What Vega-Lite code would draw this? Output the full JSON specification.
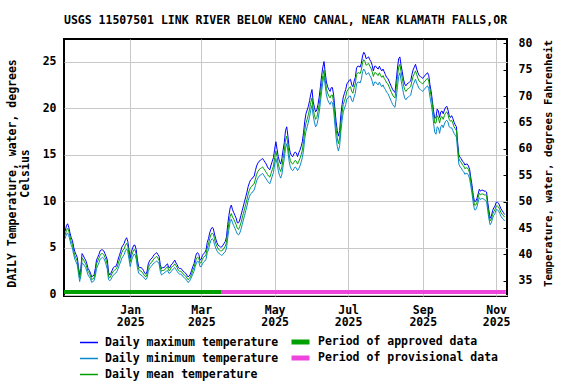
{
"$schema": "https://vega.github.io/schema/vega-lite/v6.json",
"width": 443, "height": 257,
"autosize": {"type": "none"},
"padding": {"left": 64, "top": 39, "right": 69, "bottom": 88},
"title": {"text": "USGS 11507501 LINK RIVER BELOW KENO CANAL, NEAR KLAMATH FALLS,OR", "fontSize": 11.5, "fontWeight": "bold", "font": "DejaVu Sans Mono", "anchor": "middle", "baseline": "alphabetic", "offset": 2, "color": "black"},
"datasets": {
"periods": [
{"start": "2024-11-07", "end": "2025-03-18", "period": "Period of approved data"},
{"start": "2025-03-18", "end": "2025-11-09", "period": "Period of provisional data"}
],
"temps": [
{"date":"2024-11-08","max":6.8,"mean":6.4,"min":6.0},
{"date":"2024-11-09","max":7.4,"mean":6.9,"min":6.5},
{"date":"2024-11-10","max":7.6,"mean":7.1,"min":6.6},
{"date":"2024-11-11","max":7.2,"mean":6.8,"min":6.3},
{"date":"2024-11-12","max":6.6,"mean":6.2,"min":5.8},
{"date":"2024-11-13","max":6.1,"mean":5.7,"min":5.3},
{"date":"2024-11-14","max":5.8,"mean":5.4,"min":5.0},
{"date":"2024-11-15","max":5.1,"mean":4.7,"min":4.3},
{"date":"2024-11-16","max":4.6,"mean":4.2,"min":3.8},
{"date":"2024-11-17","max":4.3,"mean":3.9,"min":3.5},
{"date":"2024-11-18","max":4.0,"mean":3.6,"min":3.2},
{"date":"2024-11-19","max":3.0,"mean":2.7,"min":2.3},
{"date":"2024-11-20","max":2.1,"mean":1.8,"min":1.4},
{"date":"2024-11-21","max":2.8,"mean":2.4,"min":2.0},
{"date":"2024-11-22","max":4.4,"mean":3.9,"min":3.4},
{"date":"2024-11-23","max":4.2,"mean":3.8,"min":3.3},
{"date":"2024-11-24","max":3.9,"mean":3.5,"min":3.1},
{"date":"2024-11-25","max":3.7,"mean":3.3,"min":2.9},
{"date":"2024-11-26","max":3.3,"mean":2.9,"min":2.5},
{"date":"2024-11-27","max":2.8,"mean":2.5,"min":2.1},
{"date":"2024-11-28","max":2.6,"mean":2.3,"min":1.9},
{"date":"2024-11-29","max":2.3,"mean":2.0,"min":1.7},
{"date":"2024-11-30","max":1.9,"mean":1.6,"min":1.3},
{"date":"2024-12-01","max":2.0,"mean":1.7,"min":1.4},
{"date":"2024-12-02","max":2.1,"mean":1.8,"min":1.5},
{"date":"2024-12-03","max":2.8,"mean":2.4,"min":2.0},
{"date":"2024-12-04","max":3.7,"mean":3.3,"min":2.8},
{"date":"2024-12-05","max":4.0,"mean":3.6,"min":3.1},
{"date":"2024-12-06","max":4.3,"mean":3.9,"min":3.4},
{"date":"2024-12-07","max":4.7,"mean":4.2,"min":3.8},
{"date":"2024-12-08","max":4.8,"mean":4.4,"min":3.9},
{"date":"2024-12-09","max":4.8,"mean":4.4,"min":4.0},
{"date":"2024-12-10","max":4.7,"mean":4.3,"min":3.9},
{"date":"2024-12-11","max":4.4,"mean":4.0,"min":3.6},
{"date":"2024-12-12","max":4.1,"mean":3.7,"min":3.2},
{"date":"2024-12-13","max":3.7,"mean":3.2,"min":2.7},
{"date":"2024-12-14","max":2.4,"mean":2.0,"min":1.6},
{"date":"2024-12-15","max":2.1,"mean":1.8,"min":1.5},
{"date":"2024-12-16","max":2.3,"mean":2.0,"min":1.6},
{"date":"2024-12-17","max":2.6,"mean":2.3,"min":1.9},
{"date":"2024-12-18","max":2.9,"mean":2.5,"min":2.1},
{"date":"2024-12-19","max":3.0,"mean":2.6,"min":2.2},
{"date":"2024-12-20","max":3.0,"mean":2.7,"min":2.3},
{"date":"2024-12-21","max":3.3,"mean":2.9,"min":2.5},
{"date":"2024-12-22","max":3.8,"mean":3.3,"min":2.8},
{"date":"2024-12-23","max":4.2,"mean":3.7,"min":3.2},
{"date":"2024-12-24","max":4.6,"mean":4.1,"min":3.5},
{"date":"2024-12-25","max":5.1,"mean":4.5,"min":3.9},
{"date":"2024-12-26","max":5.3,"mean":4.8,"min":4.1},
{"date":"2024-12-27","max":5.5,"mean":4.9,"min":4.3},
{"date":"2024-12-28","max":5.9,"mean":5.3,"min":4.7},
{"date":"2024-12-29","max":6.1,"mean":5.5,"min":4.9},
{"date":"2024-12-30","max":5.7,"mean":5.2,"min":4.6},
{"date":"2024-12-31","max":4.8,"mean":4.3,"min":3.8},
{"date":"2025-01-01","max":3.9,"mean":3.5,"min":3.0},
{"date":"2025-01-02","max":4.6,"mean":4.1,"min":3.6},
{"date":"2025-01-03","max":5.0,"mean":4.5,"min":4.0},
{"date":"2025-01-04","max":5.3,"mean":4.8,"min":4.3},
{"date":"2025-01-05","max":5.3,"mean":4.8,"min":4.3},
{"date":"2025-01-06","max":4.8,"mean":4.3,"min":3.8},
{"date":"2025-01-07","max":3.7,"mean":3.3,"min":2.9},
{"date":"2025-01-08","max":3.0,"mean":2.7,"min":2.3},
{"date":"2025-01-09","max":2.9,"mean":2.6,"min":2.2},
{"date":"2025-01-10","max":2.9,"mean":2.5,"min":2.1},
{"date":"2025-01-11","max":2.8,"mean":2.4,"min":2.0},
{"date":"2025-01-12","max":2.6,"mean":2.2,"min":1.9},
{"date":"2025-01-13","max":2.3,"mean":2.0,"min":1.7},
{"date":"2025-01-14","max":2.2,"mean":1.9,"min":1.6},
{"date":"2025-01-15","max":2.5,"mean":2.2,"min":1.8},
{"date":"2025-01-16","max":3.3,"mean":2.9,"min":2.5},
{"date":"2025-01-17","max":3.6,"mean":3.2,"min":2.8},
{"date":"2025-01-18","max":3.8,"mean":3.4,"min":3.0},
{"date":"2025-01-19","max":3.9,"mean":3.5,"min":3.1},
{"date":"2025-01-20","max":4.1,"mean":3.7,"min":3.3},
{"date":"2025-01-21","max":4.3,"mean":3.9,"min":3.4},
{"date":"2025-01-22","max":4.4,"mean":4.0,"min":3.5},
{"date":"2025-01-23","max":4.5,"mean":4.1,"min":3.6},
{"date":"2025-01-24","max":4.3,"mean":3.9,"min":3.5},
{"date":"2025-01-25","max":4.1,"mean":3.7,"min":3.3},
{"date":"2025-01-26","max":3.2,"mean":2.9,"min":2.5},
{"date":"2025-01-27","max":2.8,"mean":2.5,"min":2.1},
{"date":"2025-01-28","max":2.9,"mean":2.6,"min":2.2},
{"date":"2025-01-29","max":2.9,"mean":2.6,"min":2.3},
{"date":"2025-01-30","max":3.0,"mean":2.7,"min":2.4},
{"date":"2025-01-31","max":3.2,"mean":2.9,"min":2.5},
{"date":"2025-02-01","max":3.3,"mean":3.0,"min":2.6},
{"date":"2025-02-02","max":2.9,"mean":2.6,"min":2.3},
{"date":"2025-02-03","max":2.9,"mean":2.6,"min":2.3},
{"date":"2025-02-04","max":3.2,"mean":2.9,"min":2.5},
{"date":"2025-02-05","max":3.3,"mean":3.0,"min":2.6},
{"date":"2025-02-06","max":3.5,"mean":3.1,"min":2.8},
{"date":"2025-02-07","max":3.7,"mean":3.3,"min":2.9},
{"date":"2025-02-08","max":3.4,"mean":3.1,"min":2.7},
{"date":"2025-02-09","max":3.2,"mean":2.9,"min":2.5},
{"date":"2025-02-10","max":2.9,"mean":2.6,"min":2.3},
{"date":"2025-02-11","max":2.8,"mean":2.5,"min":2.2},
{"date":"2025-02-12","max":2.8,"mean":2.5,"min":2.2},
{"date":"2025-02-13","max":2.7,"mean":2.4,"min":2.1},
{"date":"2025-02-14","max":2.5,"mean":2.2,"min":1.9},
{"date":"2025-02-15","max":2.4,"mean":2.1,"min":1.8},
{"date":"2025-02-16","max":2.3,"mean":2.0,"min":1.7},
{"date":"2025-02-17","max":2.1,"mean":1.8,"min":1.5},
{"date":"2025-02-18","max":1.9,"mean":1.6,"min":1.3},
{"date":"2025-02-19","max":2.0,"mean":1.7,"min":1.4},
{"date":"2025-02-20","max":2.2,"mean":1.9,"min":1.6},
{"date":"2025-02-21","max":2.6,"mean":2.2,"min":1.9},
{"date":"2025-02-22","max":3.0,"mean":2.6,"min":2.2},
{"date":"2025-02-23","max":3.3,"mean":2.9,"min":2.5},
{"date":"2025-02-24","max":3.9,"mean":3.4,"min":3.0},
{"date":"2025-02-25","max":4.4,"mean":3.9,"min":3.4},
{"date":"2025-02-26","max":4.5,"mean":4.0,"min":3.6},
{"date":"2025-02-27","max":4.3,"mean":3.9,"min":3.5},
{"date":"2025-02-28","max":3.7,"mean":3.4,"min":3.0},
{"date":"2025-03-01","max":3.8,"mean":3.4,"min":3.0},
{"date":"2025-03-02","max":4.2,"mean":3.8,"min":3.3},
{"date":"2025-03-03","max":4.4,"mean":4.0,"min":3.5},
{"date":"2025-03-04","max":4.5,"mean":4.1,"min":3.6},
{"date":"2025-03-05","max":4.8,"mean":4.3,"min":3.8},
{"date":"2025-03-06","max":5.6,"mean":5.0,"min":4.5},
{"date":"2025-03-07","max":6.0,"mean":5.4,"min":4.8},
{"date":"2025-03-08","max":6.6,"mean":6.0,"min":5.4},
{"date":"2025-03-09","max":7.0,"mean":6.4,"min":5.8},
{"date":"2025-03-10","max":7.2,"mean":6.6,"min":6.0},
{"date":"2025-03-11","max":7.1,"mean":6.5,"min":5.9},
{"date":"2025-03-12","max":6.5,"mean":6.0,"min":5.4},
{"date":"2025-03-13","max":6.0,"mean":5.5,"min":5.0},
{"date":"2025-03-14","max":5.6,"mean":5.2,"min":4.7},
{"date":"2025-03-15","max":5.3,"mean":4.9,"min":4.5},
{"date":"2025-03-16","max":5.2,"mean":4.8,"min":4.4},
{"date":"2025-03-17","max":5.1,"mean":4.7,"min":4.3},
{"date":"2025-03-18","max":5.1,"mean":4.7,"min":4.2},
{"date":"2025-03-19","max":5.3,"mean":4.8,"min":4.3},
{"date":"2025-03-20","max":5.5,"mean":5.0,"min":4.5},
{"date":"2025-03-21","max":5.7,"mean":5.2,"min":4.6},
{"date":"2025-03-22","max":6.2,"mean":5.6,"min":5.0},
{"date":"2025-03-23","max":7.5,"mean":6.8,"min":6.1},
{"date":"2025-03-24","max":8.5,"mean":7.7,"min":7.0},
{"date":"2025-03-25","max":9.3,"mean":8.4,"min":7.8},
{"date":"2025-03-26","max":9.6,"mean":8.7,"min":8.1},
{"date":"2025-03-27","max":9.1,"mean":8.3,"min":7.7},
{"date":"2025-03-28","max":8.8,"mean":8.1,"min":7.4},
{"date":"2025-03-29","max":8.5,"mean":7.8,"min":7.1},
{"date":"2025-03-30","max":8.2,"mean":7.5,"min":6.8},
{"date":"2025-03-31","max":7.7,"mean":7.1,"min":6.5},
{"date":"2025-04-01","max":7.7,"mean":7.0,"min":6.4},
{"date":"2025-04-02","max":8.0,"mean":7.3,"min":6.6},
{"date":"2025-04-03","max":8.5,"mean":7.7,"min":7.0},
{"date":"2025-04-04","max":9.0,"mean":8.2,"min":7.5},
{"date":"2025-04-05","max":9.5,"mean":8.7,"min":8.0},
{"date":"2025-04-06","max":10.0,"mean":9.2,"min":8.5},
{"date":"2025-04-07","max":10.5,"mean":9.7,"min":9.0},
{"date":"2025-04-08","max":11.0,"mean":10.2,"min":9.5},
{"date":"2025-04-09","max":11.6,"mean":10.8,"min":10.1},
{"date":"2025-04-10","max":12.0,"mean":11.2,"min":10.5},
{"date":"2025-04-11","max":12.3,"mean":11.5,"min":10.8},
{"date":"2025-04-12","max":12.4,"mean":11.6,"min":10.9},
{"date":"2025-04-13","max":12.6,"mean":11.8,"min":11.1},
{"date":"2025-04-14","max":12.7,"mean":11.9,"min":11.2},
{"date":"2025-04-15","max":13.3,"mean":12.4,"min":11.7},
{"date":"2025-04-16","max":13.8,"mean":12.9,"min":12.2},
{"date":"2025-04-17","max":14.1,"mean":13.2,"min":12.5},
{"date":"2025-04-18","max":14.3,"mean":13.4,"min":12.7},
{"date":"2025-04-19","max":14.4,"mean":13.5,"min":12.8},
{"date":"2025-04-20","max":14.5,"mean":13.6,"min":12.9},
{"date":"2025-04-21","max":14.6,"mean":13.7,"min":13.0},
{"date":"2025-04-22","max":14.4,"mean":13.5,"min":12.8},
{"date":"2025-04-23","max":14.2,"mean":13.3,"min":12.6},
{"date":"2025-04-24","max":14.0,"mean":13.1,"min":12.4},
{"date":"2025-04-25","max":13.7,"mean":12.9,"min":12.2},
{"date":"2025-04-26","max":13.5,"mean":12.7,"min":12.0},
{"date":"2025-04-27","max":13.4,"mean":12.6,"min":11.9},
{"date":"2025-04-28","max":13.9,"mean":13.0,"min":12.3},
{"date":"2025-04-29","max":14.3,"mean":13.4,"min":12.7},
{"date":"2025-04-30","max":14.7,"mean":13.8,"min":13.1},
{"date":"2025-05-01","max":15.6,"mean":14.7,"min":14.0},
{"date":"2025-05-02","max":16.4,"mean":15.4,"min":14.6},
{"date":"2025-05-03","max":15.6,"mean":14.8,"min":14.1},
{"date":"2025-05-04","max":14.8,"mean":14.0,"min":13.3},
{"date":"2025-05-05","max":14.3,"mean":13.5,"min":12.8},
{"date":"2025-05-06","max":14.0,"mean":13.2,"min":12.5},
{"date":"2025-05-07","max":14.6,"mean":13.7,"min":12.9},
{"date":"2025-05-08","max":15.5,"mean":14.6,"min":13.8},
{"date":"2025-05-09","max":16.3,"mean":15.4,"min":14.6},
{"date":"2025-05-10","max":17.6,"mean":16.6,"min":15.7},
{"date":"2025-05-11","max":18.0,"mean":17.0,"min":16.2},
{"date":"2025-05-12","max":17.0,"mean":16.1,"min":15.4},
{"date":"2025-05-13","max":15.8,"mean":15.0,"min":14.3},
{"date":"2025-05-14","max":15.2,"mean":14.4,"min":13.7},
{"date":"2025-05-15","max":14.9,"mean":14.1,"min":13.4},
{"date":"2025-05-16","max":14.8,"mean":14.0,"min":13.3},
{"date":"2025-05-17","max":15.1,"mean":14.2,"min":13.5},
{"date":"2025-05-18","max":15.3,"mean":14.4,"min":13.7},
{"date":"2025-05-19","max":15.2,"mean":14.3,"min":13.6},
{"date":"2025-05-20","max":14.8,"mean":14.0,"min":13.3},
{"date":"2025-05-21","max":15.2,"mean":14.3,"min":13.5},
{"date":"2025-05-22","max":15.5,"mean":14.6,"min":13.8},
{"date":"2025-05-23","max":15.9,"mean":15.0,"min":14.2},
{"date":"2025-05-24","max":16.4,"mean":15.5,"min":14.7},
{"date":"2025-05-25","max":17.4,"mean":16.4,"min":15.5},
{"date":"2025-05-26","max":18.6,"mean":17.6,"min":16.7},
{"date":"2025-05-27","max":19.4,"mean":18.4,"min":17.5},
{"date":"2025-05-28","max":19.8,"mean":18.8,"min":18.0},
{"date":"2025-05-29","max":20.2,"mean":19.3,"min":18.5},
{"date":"2025-05-30","max":20.8,"mean":19.9,"min":19.1},
{"date":"2025-05-31","max":21.5,"mean":20.6,"min":19.8},
{"date":"2025-06-01","max":22.0,"mean":21.1,"min":20.3},
{"date":"2025-06-02","max":20.7,"mean":19.9,"min":19.2},
{"date":"2025-06-03","max":20.1,"mean":19.3,"min":18.5},
{"date":"2025-06-04","max":19.6,"mean":18.8,"min":18.0},
{"date":"2025-06-05","max":19.8,"mean":19.0,"min":18.2},
{"date":"2025-06-06","max":20.4,"mean":19.6,"min":18.8},
{"date":"2025-06-07","max":21.2,"mean":20.4,"min":19.6},
{"date":"2025-06-08","max":22.3,"mean":21.4,"min":20.6},
{"date":"2025-06-09","max":23.5,"mean":22.6,"min":21.8},
{"date":"2025-06-10","max":24.4,"mean":23.5,"min":22.8},
{"date":"2025-06-11","max":25.0,"mean":24.1,"min":23.5},
{"date":"2025-06-12","max":23.8,"mean":23.0,"min":22.4},
{"date":"2025-06-13","max":22.8,"mean":22.1,"min":21.4},
{"date":"2025-06-14","max":22.3,"mean":21.6,"min":20.9},
{"date":"2025-06-15","max":22.0,"mean":21.3,"min":20.6},
{"date":"2025-06-16","max":21.8,"mean":21.1,"min":20.4},
{"date":"2025-06-17","max":22.2,"mean":21.4,"min":20.7},
{"date":"2025-06-18","max":22.2,"mean":21.4,"min":20.6},
{"date":"2025-06-19","max":21.4,"mean":20.6,"min":19.8},
{"date":"2025-06-20","max":20.0,"mean":19.2,"min":18.3},
{"date":"2025-06-21","max":18.6,"mean":17.8,"min":16.9},
{"date":"2025-06-22","max":17.6,"mean":16.8,"min":15.9},
{"date":"2025-06-23","max":17.0,"mean":16.2,"min":15.4},
{"date":"2025-06-24","max":17.6,"mean":16.8,"min":16.0},
{"date":"2025-06-25","max":19.3,"mean":18.4,"min":17.5},
{"date":"2025-06-26","max":20.4,"mean":19.5,"min":18.7},
{"date":"2025-06-27","max":21.2,"mean":20.4,"min":19.6},
{"date":"2025-06-28","max":21.6,"mean":20.8,"min":20.0},
{"date":"2025-06-29","max":22.0,"mean":21.2,"min":20.4},
{"date":"2025-06-30","max":22.6,"mean":21.8,"min":21.0},
{"date":"2025-07-01","max":22.8,"mean":22.0,"min":21.1},
{"date":"2025-07-02","max":23.0,"mean":22.2,"min":21.3},
{"date":"2025-07-03","max":23.1,"mean":22.3,"min":21.3},
{"date":"2025-07-04","max":22.5,"mean":21.8,"min":20.8},
{"date":"2025-07-05","max":22.3,"mean":21.6,"min":20.7},
{"date":"2025-07-06","max":22.9,"mean":22.2,"min":21.2},
{"date":"2025-07-07","max":23.3,"mean":22.6,"min":21.6},
{"date":"2025-07-08","max":24.3,"mean":23.6,"min":22.6},
{"date":"2025-07-09","max":24.5,"mean":23.8,"min":22.8},
{"date":"2025-07-10","max":24.5,"mean":23.8,"min":22.8},
{"date":"2025-07-11","max":24.4,"mean":23.7,"min":22.7},
{"date":"2025-07-12","max":24.8,"mean":24.1,"min":23.1},
{"date":"2025-07-13","max":25.6,"mean":24.9,"min":23.9},
{"date":"2025-07-14","max":26.0,"mean":25.2,"min":24.2},
{"date":"2025-07-15","max":25.8,"mean":25.0,"min":24.0},
{"date":"2025-07-16","max":25.3,"mean":24.6,"min":23.6},
{"date":"2025-07-17","max":25.4,"mean":24.7,"min":23.7},
{"date":"2025-07-18","max":25.5,"mean":24.8,"min":23.8},
{"date":"2025-07-19","max":25.2,"mean":24.5,"min":23.5},
{"date":"2025-07-20","max":25.0,"mean":24.3,"min":23.3},
{"date":"2025-07-21","max":24.6,"mean":23.9,"min":22.9},
{"date":"2025-07-22","max":24.0,"mean":23.4,"min":22.4},
{"date":"2025-07-23","max":24.5,"mean":23.8,"min":22.8},
{"date":"2025-07-24","max":24.5,"mean":23.8,"min":22.8},
{"date":"2025-07-25","max":24.3,"mean":23.6,"min":22.6},
{"date":"2025-07-26","max":24.2,"mean":23.5,"min":22.5},
{"date":"2025-07-27","max":24.5,"mean":23.8,"min":22.8},
{"date":"2025-07-28","max":24.2,"mean":23.5,"min":22.5},
{"date":"2025-07-29","max":24.0,"mean":23.3,"min":22.3},
{"date":"2025-07-30","max":24.2,"mean":23.5,"min":22.5},
{"date":"2025-07-31","max":23.9,"mean":23.2,"min":22.2},
{"date":"2025-08-01","max":23.6,"mean":23.0,"min":22.0},
{"date":"2025-08-02","max":23.3,"mean":22.7,"min":21.7},
{"date":"2025-08-03","max":23.2,"mean":22.6,"min":21.6},
{"date":"2025-08-04","max":22.9,"mean":22.3,"min":21.3},
{"date":"2025-08-05","max":22.6,"mean":22.0,"min":21.0},
{"date":"2025-08-06","max":22.3,"mean":21.7,"min":20.7},
{"date":"2025-08-07","max":22.0,"mean":21.4,"min":20.4},
{"date":"2025-08-08","max":21.8,"mean":21.2,"min":20.2},
{"date":"2025-08-09","max":21.7,"mean":21.1,"min":20.1},
{"date":"2025-08-10","max":23.0,"mean":22.2,"min":21.1},
{"date":"2025-08-11","max":24.3,"mean":23.4,"min":22.3},
{"date":"2025-08-12","max":25.3,"mean":24.4,"min":23.4},
{"date":"2025-08-13","max":25.5,"mean":24.7,"min":23.8},
{"date":"2025-08-14","max":24.6,"mean":23.9,"min":23.0},
{"date":"2025-08-15","max":23.9,"mean":23.2,"min":22.3},
{"date":"2025-08-16","max":23.1,"mean":22.5,"min":21.6},
{"date":"2025-08-17","max":22.6,"mean":22.0,"min":21.1},
{"date":"2025-08-18","max":22.4,"mean":21.8,"min":20.9},
{"date":"2025-08-19","max":22.6,"mean":22.0,"min":21.1},
{"date":"2025-08-20","max":22.7,"mean":22.1,"min":21.2},
{"date":"2025-08-21","max":22.8,"mean":22.2,"min":21.3},
{"date":"2025-08-22","max":22.9,"mean":22.3,"min":21.4},
{"date":"2025-08-23","max":23.6,"mean":22.9,"min":22.0},
{"date":"2025-08-24","max":24.1,"mean":23.4,"min":22.5},
{"date":"2025-08-25","max":24.4,"mean":23.7,"min":22.8},
{"date":"2025-08-26","max":24.7,"mean":24.0,"min":23.1},
{"date":"2025-08-27","max":24.2,"mean":23.6,"min":22.7},
{"date":"2025-08-28","max":23.8,"mean":23.2,"min":22.4},
{"date":"2025-08-29","max":23.5,"mean":22.9,"min":22.1},
{"date":"2025-08-30","max":23.4,"mean":22.8,"min":22.0},
{"date":"2025-08-31","max":23.3,"mean":22.7,"min":21.9},
{"date":"2025-09-01","max":23.2,"mean":22.6,"min":21.8},
{"date":"2025-09-02","max":23.4,"mean":22.8,"min":22.0},
{"date":"2025-09-03","max":23.5,"mean":22.9,"min":22.1},
{"date":"2025-09-04","max":23.7,"mean":23.1,"min":22.3},
{"date":"2025-09-05","max":23.8,"mean":23.2,"min":22.4},
{"date":"2025-09-06","max":23.5,"mean":22.9,"min":22.1},
{"date":"2025-09-07","max":22.5,"mean":22.0,"min":21.2},
{"date":"2025-09-08","max":21.8,"mean":21.3,"min":20.5},
{"date":"2025-09-09","max":20.8,"mean":20.4,"min":19.6},
{"date":"2025-09-10","max":19.7,"mean":19.3,"min":18.4},
{"date":"2025-09-11","max":18.9,"mean":18.4,"min":17.4},
{"date":"2025-09-12","max":19.0,"mean":18.4,"min":17.2},
{"date":"2025-09-13","max":19.9,"mean":19.2,"min":18.0},
{"date":"2025-09-14","max":19.7,"mean":19.0,"min":17.9},
{"date":"2025-09-15","max":19.0,"mean":18.4,"min":17.3},
{"date":"2025-09-16","max":19.6,"mean":19.0,"min":18.0},
{"date":"2025-09-17","max":19.7,"mean":19.1,"min":18.2},
{"date":"2025-09-18","max":19.4,"mean":18.8,"min":17.9},
{"date":"2025-09-19","max":19.8,"mean":19.2,"min":18.3},
{"date":"2025-09-20","max":20.1,"mean":19.5,"min":18.6},
{"date":"2025-09-21","max":20.2,"mean":19.6,"min":18.7},
{"date":"2025-09-22","max":19.8,"mean":19.3,"min":18.5},
{"date":"2025-09-23","max":19.2,"mean":18.8,"min":18.0},
{"date":"2025-09-24","max":19.0,"mean":18.6,"min":17.9},
{"date":"2025-09-25","max":19.2,"mean":18.7,"min":17.9},
{"date":"2025-09-26","max":18.9,"mean":18.4,"min":17.6},
{"date":"2025-09-27","max":18.5,"mean":18.0,"min":17.3},
{"date":"2025-09-28","max":18.2,"mean":17.8,"min":17.1},
{"date":"2025-09-29","max":18.0,"mean":17.6,"min":16.9},
{"date":"2025-09-30","max":16.3,"mean":16.0,"min":15.4},
{"date":"2025-10-01","max":15.0,"mean":14.6,"min":14.0},
{"date":"2025-10-02","max":14.7,"mean":14.3,"min":13.7},
{"date":"2025-10-03","max":14.6,"mean":14.2,"min":13.6},
{"date":"2025-10-04","max":14.3,"mean":13.9,"min":13.3},
{"date":"2025-10-05","max":14.2,"mean":13.8,"min":13.2},
{"date":"2025-10-06","max":13.9,"mean":13.5,"min":12.9},
{"date":"2025-10-07","max":14.0,"mean":13.6,"min":13.0},
{"date":"2025-10-08","max":14.0,"mean":13.6,"min":13.0},
{"date":"2025-10-09","max":13.8,"mean":13.4,"min":12.8},
{"date":"2025-10-10","max":13.4,"mean":13.0,"min":12.4},
{"date":"2025-10-11","max":12.5,"mean":12.1,"min":11.6},
{"date":"2025-10-12","max":11.7,"mean":11.3,"min":10.8},
{"date":"2025-10-13","max":10.6,"mean":10.3,"min":9.8},
{"date":"2025-10-14","max":10.0,"mean":9.6,"min":9.1},
{"date":"2025-10-15","max":10.0,"mean":9.6,"min":9.1},
{"date":"2025-10-16","max":10.3,"mean":9.9,"min":9.4},
{"date":"2025-10-17","max":10.8,"mean":10.4,"min":9.9},
{"date":"2025-10-18","max":11.3,"mean":10.9,"min":10.4},
{"date":"2025-10-19","max":11.1,"mean":10.7,"min":10.2},
{"date":"2025-10-20","max":11.2,"mean":10.8,"min":10.3},
{"date":"2025-10-21","max":11.2,"mean":10.8,"min":10.3},
{"date":"2025-10-22","max":11.1,"mean":10.7,"min":10.2},
{"date":"2025-10-23","max":11.1,"mean":10.7,"min":10.1},
{"date":"2025-10-24","max":11.0,"mean":10.6,"min":10.0},
{"date":"2025-10-25","max":9.9,"mean":9.5,"min":9.0},
{"date":"2025-10-26","max":9.0,"mean":8.6,"min":8.1},
{"date":"2025-10-27","max":8.2,"mean":7.9,"min":7.5},
{"date":"2025-10-28","max":8.4,"mean":8.1,"min":7.7},
{"date":"2025-10-29","max":9.0,"mean":8.6,"min":8.2},
{"date":"2025-10-30","max":9.3,"mean":8.9,"min":8.5},
{"date":"2025-10-31","max":9.5,"mean":9.1,"min":8.7},
{"date":"2025-11-01","max":9.9,"mean":9.5,"min":9.1},
{"date":"2025-11-02","max":9.9,"mean":9.5,"min":9.1},
{"date":"2025-11-03","max":9.8,"mean":9.4,"min":9.0},
{"date":"2025-11-04","max":9.5,"mean":9.1,"min":8.7},
{"date":"2025-11-05","max":9.2,"mean":8.8,"min":8.4},
{"date":"2025-11-06","max":9.0,"mean":8.6,"min":8.2},
{"date":"2025-11-07","max":8.8,"mean":8.5,"min":8.1},
{"date":"2025-11-08","max":8.6,"mean":8.3,"min":7.9}
]
},
"layer": [
{
"data": {"name": "temps"},
"transform": [{"fold": ["max", "min", "mean"], "as": ["series", "temp"]}],
"mark": {"type": "line", "strokeWidth": 1},
"encoding": {
"x": {"field": "date", "type": "temporal",
"scale": {"type": "utc", "domain": [{"year": 2024, "month": "nov", "date": 7, "utc": true}, {"year": 2025, "month": "nov", "date": 10, "utc": true}]},
"axis": {"title": null, "tickCount": {"interval": "month", "step": 2}, "labelExpr": "[utcFormat(datum.value, '%b'), utcFormat(datum.value, '%Y')]", "ticks": false, "domain": false, "grid": true, "labelPadding": 8, "labelLineHeight": 12.7, "labelFlush": false, "labelOverlap": false}},
"y": {"field": "temp", "type": "quantitative",
"scale": {"domain": [-0.15, 27.42], "nice": false, "zero": false},
"axis": {"orient": "left", "title": ["DAILY Temperature, water, degrees", "Celsius"], "values": [0, 5, 10, 15, 20, 25], "ticks": false, "domain": false, "grid": true, "labelPadding": 8, "titlePadding": 12, "titleLineHeight": 12.3, "titleY": 134}},
"stroke": {"field": "series", "type": "nominal",
"scale": {"domain": ["max", "min", "mean"], "range": ["#0000ff", "#0a88cc", "#00a000"]},
"legend": {"orient": "none", "legendX": 15, "legendY": 293.5, "title": null, "direction": "vertical", "symbolType": "stroke", "symbolSize": 324, "symbolStrokeWidth": 1.5, "labelOffset": 6, "rowPadding": 0,
"labelExpr": "datum.label == 'max' ? 'Daily maximum temperature' : datum.label == 'min' ? 'Daily minimum temperature' : 'Daily mean temperature'"}}
}
},
{
"data": {"name": "periods"},
"mark": {"type": "rule", "strokeWidth": 4},
"encoding": {
"x": {"field": "start", "type": "temporal", "title": null,
"scale": {"type": "utc", "domain": [{"year": 2024, "month": "nov", "date": 7, "utc": true}, {"year": 2025, "month": "nov", "date": 10, "utc": true}]}},
"x2": {"field": "end"},
"y": {"datum": 0.28, "type": "quantitative", "scale": {"domain": [-0.15, 27.42], "nice": false, "zero": false}, "axis": null},
"color": {"field": "period", "type": "nominal",
"scale": {"domain": ["Period of approved data", "Period of provisional data"], "range": ["#00a000", "#ee44dd"]},
"legend": {"orient": "none", "legendX": 225, "legendY": 295, "title": null, "direction": "vertical", "symbolType": "stroke", "symbolSize": 324, "symbolStrokeWidth": 5, "labelOffset": 6, "rowPadding": 0, "clipHeight": 16}}
}
},
{
"data": {"name": "periods"},
"mark": {"type": "rule", "opacity": 0},
"encoding": {
"y": {"datum": 50, "type": "quantitative",
"scale": {"domain": [32.14, 80.8], "nice": false, "zero": false},
"axis": {"orient": "right", "title": "Temperature, water, degrees Fahrenheit", "values": [35, 40, 45, 50, 55, 60, 65, 70, 75, 80], "grid": false, "domain": false, "ticks": true, "tickSize": -4, "tickColor": "black", "labelPadding": 15, "titleAngle": -90, "titleFontSize": 10.8, "titlePadding": 22, "titleY": 124}}
}
}
],
"resolve": {"scale": {"y": "independent"}, "axis": {"y": "independent"}},
"config": {
"font": "DejaVu Sans Mono",
"view": {"stroke": "black", "strokeWidth": 2},
"axis": {"labelFont": "DejaVu Sans Mono", "labelFontWeight": "bold", "labelFontSize": 11.5, "labelColor": "black", "titleFont": "DejaVu Sans Mono", "titleFontWeight": "bold", "titleFontSize": 11.5, "titleColor": "black", "gridColor": "#c8c8c8", "gridWidth": 1},
"legend": {"labelFont": "DejaVu Sans Mono", "labelFontWeight": "bold", "labelFontSize": 11.5, "labelColor": "black", "padding": 0, "labelLimit": 400}
}
}
